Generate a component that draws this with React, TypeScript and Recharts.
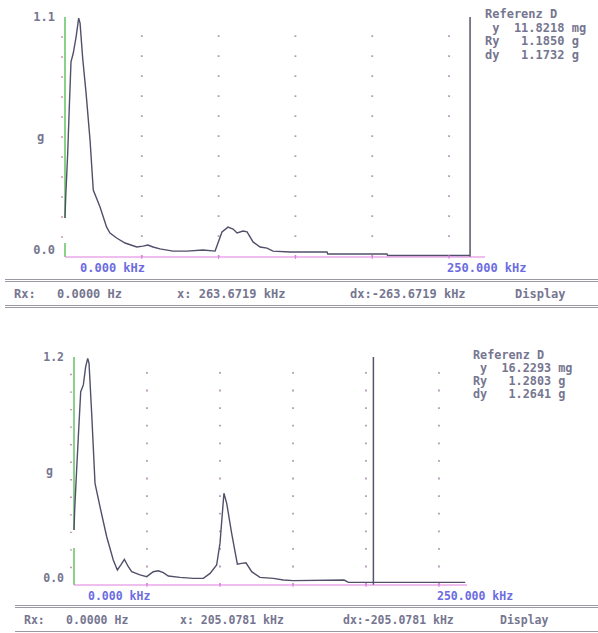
import { Line, LineChart, ReferenceLine, XAxis, YAxis } from "recharts";

// upper trace: frequency (kHz) and amplitude (g)
const topFreq = [
  0, 0.46, 1.76, 2.8, 3.9, 5.4, 7.2, 8.9, 9.8, 11.5, 13.7, 16.3, 18.4, 22.8, 27.1, 29.3, 33.6, 39.1,
  46.7, 50.8, 54.0, 57.3, 61.8, 70.3, 79.4, 89.8, 97.7, 102.2, 106.1, 109.4, 112.0, 115.9, 118.5,
  122.4, 127.0, 131.5, 135.4, 146.5, 170.6, 171.0, 209.6, 210.0, 263.67,
];
const topAmp = [
  0.179, 0.275, 0.477, 0.687, 0.894, 0.935, 1.008, 1.095, 1.072, 0.912, 0.752, 0.536, 0.307, 0.229,
  0.137, 0.11, 0.087, 0.064, 0.046, 0.05, 0.055, 0.046, 0.037, 0.027, 0.027, 0.032, 0.027, 0.115,
  0.137, 0.128, 0.11, 0.119, 0.115, 0.069, 0.046, 0.041, 0.027, 0.023, 0.023, 0.014, 0.014, 0.007,
  0.007,
];

// lower trace
const botFreq = [
  0, 0.46, 1.8, 3.2, 4.6, 6.4, 8.0, 9.4, 10.3, 12.1, 14.4, 17.8, 22.4, 26.9, 29.7, 32.0, 34.5, 37.2,
  39.5, 45.2, 49.8, 54.3, 57.7, 61.2, 64.6, 72.6, 81.7, 88.6, 93.2, 97.7, 100.0, 102.7, 104.6, 108.0,
  111.9, 114.8, 117.8, 121.7, 127.4, 136.5, 143.4, 150.2, 185.0, 188.0, 268.0,
];
const botAmp = [
  0.289, 0.395, 0.605, 0.816, 1.017, 1.053, 1.149, 1.193, 1.167, 0.904, 0.535, 0.412, 0.254, 0.132,
  0.079, 0.105, 0.135, 0.096, 0.07, 0.053, 0.044, 0.07, 0.075, 0.065, 0.047, 0.04, 0.035, 0.035,
  0.061, 0.105, 0.219, 0.483, 0.43, 0.272, 0.11, 0.114, 0.117, 0.07, 0.04, 0.035, 0.026, 0.023,
  0.026, 0.014, 0.014,
];

const gridFreq = [50, 100, 150, 200, 250];
const xTicks = [0, 50, 100, 150, 200, 250];

const TOP = {
  data: topFreq.map((f, i) => ({ f, v: topAmp[i] })),
  xMax: 273.4,
  yMax: 1.1,
  yDiv: 12,
  topLabel: "1.1",
  cursor: 263.6719,
  axisGap: [0.064, 0.179],
  ref: [" y  11.8218 mg", "Ry   1.1850 g", "dy   1.1732 g"],
  x: "263.6719",
};
const BOT = {
  data: botFreq.map((f, i) => ({ f, v: botAmp[i] })),
  xMax: 269.2,
  yMax: 1.2,
  yDiv: 13,
  topLabel: "1.2",
  cursor: 205.0781,
  axisGap: [0.195, 0.289],
  ref: [" y  16.2293 mg", "Ry   1.2803 g", "dy   1.2641 g"],
  x: "205.0781",
};

const MONO = "'DejaVu Sans Mono', 'Liberation Mono', monospace";
const TXT = "#767690";
const BLUE = "#6c6ce0";
const PINK = "#e07ee0";
const GREEN = "#4cb84c";
const TRACE = "#50506a";

function XTick({ x, y, payload, fs, zeroDx }: any) {
  const v = payload.value;
  return (
    <g>
      {v > 0 && <line x1={x} x2={x} y1={y - 2} y2={y + 2} stroke={PINK} />}
      {v === 0 && (
        <text x={x + zeroDx} y={y + 11} dy="0.35em" fill={BLUE} fontSize={fs} fontFamily={MONO} fontWeight="bold">
          0.000 kHz
        </text>
      )}
      {v === 250 && (
        <text x={x - 2} y={y + 11} dy="0.35em" fill={BLUE} fontSize={fs} fontFamily={MONO} fontWeight="bold">
          250.000 kHz
        </text>
      )}
    </g>
  );
}

function YTick({ x, y, index, last, topLabel, fs }: any) {
  if (index === 0 || index === last) {
    return (
      <text
        x={x - 10}
        y={index === 0 ? y - 7 : y}
        dy="0.35em"
        textAnchor="end"
        fill={TXT}
        fontSize={fs}
        fontFamily={MONO}
        fontWeight="bold"
      >
        {index === 0 ? "0.0" : topLabel}
      </text>
    );
  }
  return <line x1={x - 4} x2={x - 2} y1={y} y2={y} stroke="#c898b8" strokeWidth={1.4} />;
}

function Panel({ cfg, top, width, height, margin, fs, zeroDx, dotGap }: any) {
  const yTicks = Array.from({ length: cfg.yDiv + 1 }, (_, i) => (i * cfg.yMax) / cfg.yDiv);
  return (
    <div style={{ position: "absolute", left: 0, top }}>
      <LineChart width={width} height={height} data={cfg.data} margin={margin}>
        <XAxis
          dataKey="f"
          type="number"
          domain={[0, cfg.xMax]}
          ticks={xTicks}
          height={20}
          axisLine={{ stroke: PINK, strokeWidth: 1.2 }}
          tickLine={false}
          tickSize={0}
          tickMargin={0}
          interval={0}
          tick={(p: any) => <XTick {...p} fs={fs} zeroDx={zeroDx} />}
        />
        <YAxis
          type="number"
          domain={[0, cfg.yMax]}
          ticks={yTicks}
          width={30}
          axisLine={false}
          tickLine={false}
          tickSize={0}
          tickMargin={0}
          interval={0}
          tick={(p: any) => <YTick {...p} last={cfg.yDiv} topLabel={cfg.topLabel} fs={fs} />}
          label={{
            value: "g",
            position: "insideLeft",
            offset: 2,
            fill: TXT,
            fontSize: fs,
            fontFamily: MONO,
            fontWeight: "bold",
          }}
        />
        {gridFreq.map((g) => (
          <ReferenceLine
            key={g}
            x={g}
            stroke="#b498b8"
            strokeWidth={1.8}
            strokeDasharray={`1.8 ${dotGap}`}
          />
        ))}
        <ReferenceLine
          segment={[
            { x: 0, y: 0 },
            { x: 0, y: cfg.axisGap[0] },
          ]}
          stroke={GREEN}
          strokeWidth={1.3}
        />
        <ReferenceLine
          segment={[
            { x: 0, y: cfg.axisGap[1] },
            { x: 0, y: cfg.yMax },
          ]}
          stroke={GREEN}
          strokeWidth={1.3}
        />
        <Line
          type="linear"
          dataKey="v"
          stroke={TRACE}
          strokeWidth={1.4}
          dot={false}
          isAnimationActive={false}
        />
        <ReferenceLine x={cfg.cursor} stroke="#55556a" strokeWidth={1.5} />
      </LineChart>
    </div>
  );
}

function RefBlock({ cfg, left, top, fs, lh }: any) {
  return (
    <div
      style={{
        position: "absolute",
        left,
        top,
        fontFamily: MONO,
        fontSize: fs,
        lineHeight: `${lh}px`,
        fontWeight: "bold",
        color: TXT,
        whiteSpace: "pre",
      }}
    >
      {["Referenz D", ...cfg.ref].join("\n")}
    </div>
  );
}

function Status({ cfg, top, xs, fs, lineLeft }: any) {
  const items = ["Rx:", "0.0000 Hz", `x: ${cfg.x} kHz`, `dx:-${cfg.x} kHz`, "Display"];
  const sep = { position: "absolute" as const, left: lineLeft, right: 0, borderTop: "3px double #9a9aa4" };
  return (
    <>
      <div style={{ ...sep, top: top - 15 }} />
      {items.map((t, i) => (
        <span
          key={i}
          style={{
            position: "absolute",
            left: xs[i],
            top: top - 8,
            fontFamily: MONO,
            fontSize: fs,
            lineHeight: "16px",
            fontWeight: "bold",
            color: TXT,
            whiteSpace: "pre",
          }}
        >
          {t}
        </span>
      ))}
      <div style={{ ...sep, top: top + 11 }} />
    </>
  );
}

export default function App() {
  return (
    <div style={{ position: "absolute", left: 0, top: 0, width: 598, height: 633, background: "#fff", overflow: "hidden" }}>
      <Panel
        cfg={TOP}
        top={0}
        width={598}
        height={277}
        margin={{ top: 17, right: 113, bottom: 0, left: 35 }}
        fs={12}
        zeroDx={15}
        dotGap={18.2}
      />
      <RefBlock cfg={TOP} left={485} top={8} fs={12} lh={13.7} />
      <Status cfg={TOP} top={294} xs={[14, 57, 177, 350, 515]} fs={12} lineLeft={5} />

      <Panel
        cfg={BOT}
        top={330}
        width={598}
        height={275}
        margin={{ top: 27, right: 131, bottom: 0, left: 44 }}
        fs={11.5}
        zeroDx={14}
        dotGap={15.8}
      />
      <RefBlock cfg={BOT} left={473} top={349} fs={11.8} lh={13} />
      <Status cfg={BOT} top={620} xs={[24, 66, 180, 343, 500]} fs={11.5} lineLeft={15} />
    </div>
  );
}
